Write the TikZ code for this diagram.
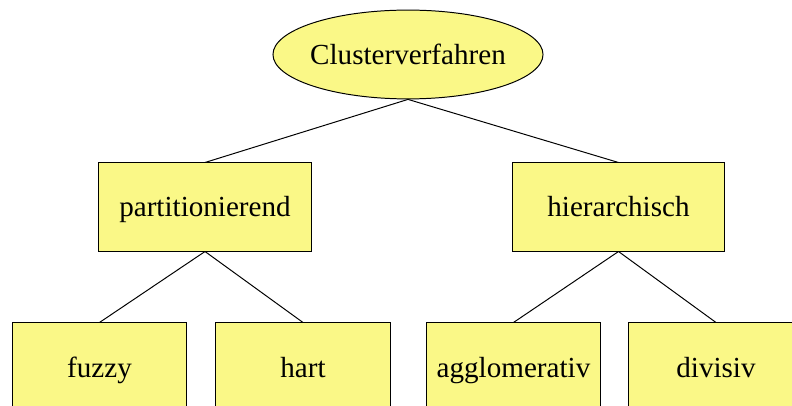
\documentclass[tikz,border=0pt]{standalone}
\usepackage{fontspec}
\setmainfont{Liberation Serif}
\usepackage{tikz}
\usepackage{xcolor}
\usetikzlibrary{shapes.geometric, positioning}

\definecolor{boxyellow}{RGB}{250,248,135}

\begin{document}
\begin{tikzpicture}[x=0.025cm, y=-0.025cm, line width=0.7pt,
        every node/.style={font=\fontsize{20.7}{24}\selectfont,
                           text height=0.65cm, text depth=0.15cm},
        rootnode/.style={ellipse, draw, fill=boxyellow, inner xsep=-0.06cm,
                         inner ysep=0pt,
                         minimum width=6.75cm, minimum height=2.22cm},
        midbox/.style={rectangle, draw, fill=boxyellow, inner sep=0pt,
                       minimum width=5.3cm, minimum height=2.2cm},
        leafbox/.style={rectangle, draw, fill=boxyellow, inner sep=0pt,
                        minimum width=4.35cm, minimum height=2.2cm}]
        \useasboundingbox (0,0) rectangle (792,406);
        \clip (0,0) rectangle (792,406);

        \node[rootnode] (verfahren) at (408,54.5) {Clusterverfahren};

        \node[midbox] (part) at (205,207) {partitionierend};
        \node[midbox] (hier) at (618.5,207) {hierarchisch};

        \node[leafbox] (fuzzy) at (99.5,367) {fuzzy};
        \node[leafbox] (hart) at (303,367) {hart};
        \node[leafbox] (aggl) at (513.5,367) {agglomerativ};
        \node[leafbox] (divi) at (716,367) {divisiv};

        \draw (verfahren.south) -- (part.north);
        \draw (verfahren.south) -- (hier.north);
        \draw (part.south) -- (fuzzy.north);
        \draw (part.south) -- (hart.north);
        \draw (hier.south) -- (aggl.north);
        \draw (hier.south) -- (divi.north);
    \end{tikzpicture}
\end{document}
